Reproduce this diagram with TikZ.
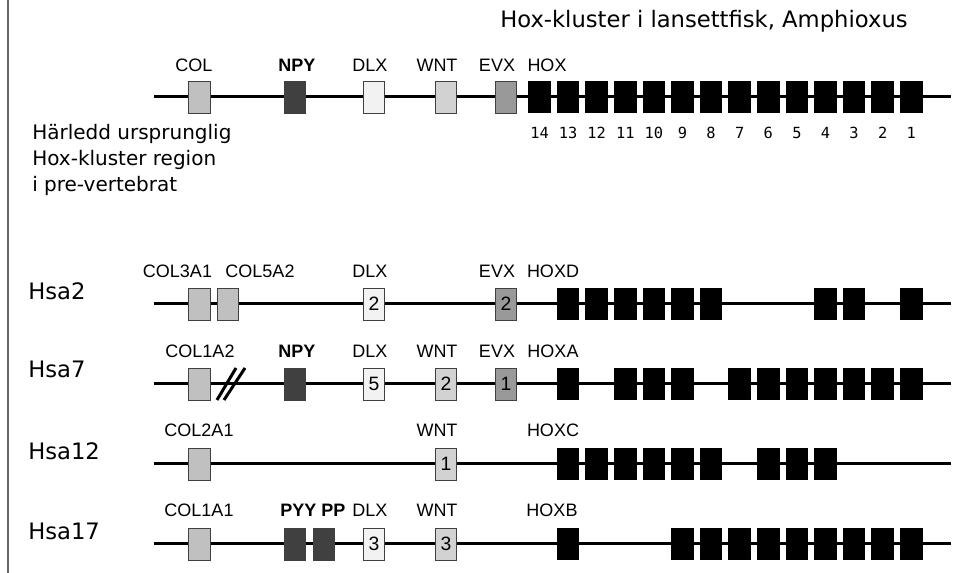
\documentclass[tikz,border=0pt]{standalone}
\usepackage{fontspec}
\setmainfont{Liberation Sans}
\newfontfamily\comicfont{DejaVu Sans}
\newfontfamily\monofont{DejaVu Sans Mono}
\definecolor{colgray}{HTML}{C0C0C0}
\definecolor{npygray}{HTML}{404040}
\definecolor{dlxgray}{HTML}{F2F2F2}
\definecolor{wntgray}{HTML}{D2D2D2}
\definecolor{evxgray}{HTML}{999999}
\tikzset{
  chrom/.style={line width=2.25pt},
  gene/.style={draw=black!75, line width=0.6pt, inner sep=0pt, minimum width=16pt, minimum height=24pt, font=\fontsize{14.5}{14.5}\selectfont},
  hox/.style={fill=black, inner sep=0pt, minimum width=17pt, minimum height=24pt},
  hoxnum/.style={anchor=base, inner sep=0pt, font=\monofont\fontsize{11.5}{11.5}\selectfont},
  lbl/.style={anchor=base, inner sep=0pt, font=\fontsize{13.5}{13.5}\selectfont},
  lblb/.style={lbl, font=\fontsize{13.5}{13.5}\bfseries\selectfont},
  rowname/.style={anchor=base west, inner sep=0pt, font=\comicfont\fontsize{17}{17}\selectfont},
  note/.style={anchor=base west, inner sep=0pt, font=\comicfont\fontsize{15}{15}\selectfont}
}
\begin{document}
\begin{tikzpicture}[x=0.75pt, y=-0.75pt]
    \useasboundingbox (0,0) rectangle (954,573);
    \draw[black!60, line width=1pt] (8,0) -- (8,573);
    % titles
    \node[anchor=base west, inner sep=0pt, font=\comicfont\fontsize{17}{17}\selectfont] (title) at (500,28) {Hox-kluster i lansettfisk, Amphioxus};
    \node[note] (pre1) at (32,140) {Härledd ursprunglig};
    \node[note] (pre2) at (32,166) {Hox-kluster region};
    \node[note] (pre3) at (32,192) {i pre-vertebrat};
    \node[rowname] (r2) at (28,300) {Hsa2};
    \node[rowname] (r7) at (28,378) {Hsa7};
    \node[rowname] (r12) at (28,460) {Hsa12};
    \node[rowname] (r17) at (28,540) {Hsa17};
    % pre-vertebrate
    \coordinate (s0) at (154,97); \coordinate (t0) at (951,97);
    \draw[chrom] (s0) -- (t0);
    \node[gene, fill=colgray] (c0) at (199.5,97) {};
    \node[gene, fill=npygray] (n0) at (295,97) {};
    \node[gene, fill=dlxgray] (d0) at (374,97) {};
    \node[gene, fill=wntgray] (w0) at (446,97) {};
    \node[gene, fill=evxgray] (e0) at (506,97) {};
    \foreach \k in {1,...,14} {
        \pgfmathtruncatemacro\num{15-\k}
        \node[hox] (h0-\k) at ({539.5+(\k-1)*28.6},97) {};
        \node[hoxnum] (m0-\k) at ({539.5+(\k-1)*28.6},139) {\num};
    }
    \node[lbl] (lc0) at (194,72) {COL};
    \node[lblb] (ln0) at (297,72) {NPY};
    \node[lbl] (ld0) at (370,72) {DLX};
    \node[lbl] (lw0) at (437,72) {WNT};
    \node[lbl] (le0) at (497,72) {EVX};
    \node[lbl] (lh0) at (547,72) {HOX};
    % Hsa2
    \coordinate (s2) at (154,304); \coordinate (t2) at (951,304);
    \draw[chrom] (s2) -- (t2);
    \node[gene, fill=colgray] (c2) at (199.5,304) {};
    \node[gene, fill=colgray] (c2b) at (228,304) {};
    \node[gene, fill=dlxgray] (d2) at (374,304) {2};
    \node[gene, fill=evxgray] (e2) at (506,304) {2};
    \foreach \k in {2,3,4,5,6,7,11,12,14}
        \node[hox] (h2-\k) at ({539.5+(\k-1)*28.6},304) {};
    \node[lbl] (lc2) at (177.5,278) {COL3A1};
    \node[lbl] (lc2b) at (260,278) {COL5A2};
    \node[lbl] (ld2) at (370,278) {DLX};
    \node[lbl] (le2) at (497,278) {EVX};
    \node[lbl] (lh2) at (553,278) {HOXD};
    % Hsa7
    \coordinate (s7) at (154,384); \coordinate (t7) at (951,384);
    \draw[chrom] (s7) -- (t7);
    \draw[chrom] (217,400) -- (236,368) (224,400) -- (245,368);
    \node[gene, fill=colgray] (c7) at (199.5,384) {};
    \node[gene, fill=npygray] (n7) at (295,384) {};
    \node[gene, fill=dlxgray] (d7) at (374,384) {5};
    \node[gene, fill=wntgray] (w7) at (446,384) {2};
    \node[gene, fill=evxgray] (e7) at (506,384) {1};
    \foreach \k in {2,4,5,6,8,9,10,11,12,13,14}
        \node[hox] (h7-\k) at ({539.5+(\k-1)*28.6},384) {};
    \node[lbl] (lc7) at (200,358) {COL1A2};
    \node[lblb] (ln7) at (297,358) {NPY};
    \node[lbl] (ld7) at (370,358) {DLX};
    \node[lbl] (lw7) at (437,358) {WNT};
    \node[lbl] (le7) at (497,358) {EVX};
    \node[lbl] (lh7) at (553,358) {HOXA};
    % Hsa12
    \coordinate (s12) at (154,464); \coordinate (t12) at (951,464);
    \draw[chrom] (s12) -- (t12);
    \node[gene, fill=colgray] (c12) at (199.5,464) {};
    \node[gene, fill=wntgray] (w12) at (446,464) {1};
    \foreach \k in {2,3,4,5,6,7,9,10,11}
        \node[hox] (h12-\k) at ({539.5+(\k-1)*28.6},464) {};
    \node[lbl] (lc12) at (199,437) {COL2A1};
    \node[lbl] (lw12) at (437,437) {WNT};
    \node[lbl] (lh12) at (553,437) {HOXC};
    % Hsa17
    \coordinate (s17) at (154,544); \coordinate (t17) at (951,544);
    \draw[chrom] (s17) -- (t17);
    \node[gene, fill=colgray] (c17) at (199.5,544) {};
    \node[gene, fill=npygray] (p17) at (295,544) {};
    \node[gene, fill=npygray] (q17) at (324,544) {};
    \node[gene, fill=dlxgray] (d17) at (374,544) {3};
    \node[gene, fill=wntgray] (w17) at (446,544) {3};
    \foreach \k in {2,6,7,8,9,10,11,12,13,14}
        \node[hox] (h17-\k) at ({539.5+(\k-1)*28.6},544) {};
    \node[lbl] (lc17) at (199,517) {COL1A1};
    \node[lblb] (lp17) at (313,517) {PYY PP};
    \node[lbl] (ld17) at (370,517) {DLX};
    \node[lbl] (lw17) at (437,517) {WNT};
    \node[lbl] (lh17) at (552,517) {HOXB};
\end{tikzpicture}
\end{document}
